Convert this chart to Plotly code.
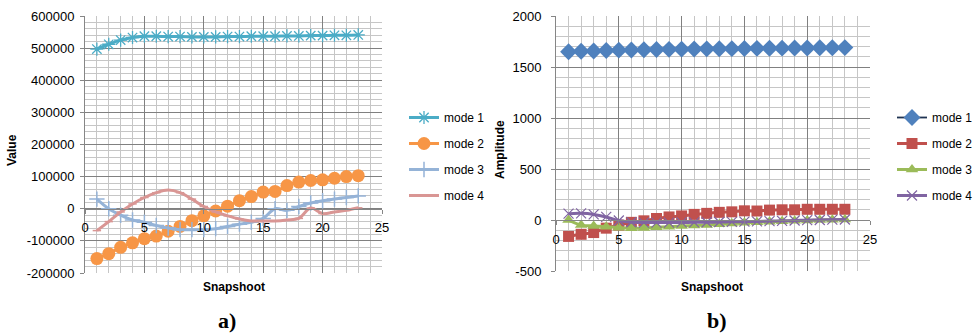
import plotly.graph_objects as go

snap = list(range(1, 24))

# Chart a) values
a_mode1 = [497000, 512000, 525000, 533000, 537000, 537000, 536000, 536000, 535000, 535000, 535000, 536000,
           536000, 537000, 537000, 537000, 538000, 538000, 539000, 539000, 540000, 540000, 541000]
a_mode2 = [-155000, -140000, -120000, -106000, -93000, -85000, -70000, -55000, -37000, -22000, -7000, 8000,
           25000, 38000, 52000, 54000, 72000, 83000, 88000, 90000, 95000, 100000, 103000]
a_mode3 = [30000, 0, -20000, -35000, -42000, -52000, -60000, -65000, -65000, -65000, -62000, -55000,
           -48000, -42000, -30000, 0, -5000, 7000, 18000, 25000, 30000, 35000, 40000]
a_mode4 = [-68000, -40000, -10000, 15000, 35000, 50000, 58000, 50000, 30000, 7000, -10000, -22000,
           -32000, -38000, -38000, -38000, -35000, -30000, 2000, -15000, -10000, -5000, 3000]

# Chart b) values
b_mode1 = [1650, 1654, 1657, 1662, 1665, 1666, 1669, 1671, 1673, 1675, 1676, 1678,
           1679, 1680, 1681, 1683, 1684, 1685, 1686, 1687, 1688, 1689, 1690]
b_mode2 = [-161, -140, -123, -80, -50, -23, -8, 15, 30, 40, 55, 65,
           75, 80, 90, 88, 97, 100, 100, 105, 105, 105, 105]
b_mode3 = [0, -50, -58, -65, -75, -80, -78, -72, -65, -58, -55, -50,
           -42, -35, -28, -22, -18, -12, -8, -5, 0, 2, 5]
b_mode4 = [62, 65, 55, 30, -5, -22, -25, -25, -25, -24, -23, -22,
           -20, -18, -16, -14, -11, -8, -5, -2, 0, 3, 5]

x_ticks = [0, 5, 10, 15, 20, 25]
x_ticktext = ["0", "5", "10", "15", "20", "25"]
a_yticks = [-200000, -100000, 0, 100000, 200000, 300000, 400000, 500000, 600000]
a_yticktext = ["-200000", "-100000", "0", "100000", "200000", "300000", "400000", "500000", "600000"]
b_yticks = [-500, 0, 500, 1000, 1500, 2000]
b_yticktext = ["-500", "0", "500", "1000", "1500", "2000"]

W, H = 980, 333
FONT = "Liberation Sans"
MAJ = "#808080"
MIN = "#c6c6c6"

fig = go.Figure()

def add(x, y, name, color, sym, size, xa, ya, leg, lw=3, mline=None, mcolor=None, mlw=0, lcolor=None):
    fig.add_trace(go.Scatter(
        x=x, y=y, name=name, mode="lines+markers", xaxis=xa, yaxis=ya, legend=leg,
        legendgroup=leg + name,
        line=dict(color=lcolor or color, width=lw, shape="spline", smoothing=1),
        marker=dict(symbol=sym, size=size, color=mcolor or color,
                    line=dict(color=mline or color, width=mlw)),
    ))

add(snap, a_mode1, "mode 1", "#4BACC6", "asterisk-open", 11, "x", "y", "legend", mlw=1.3, mline="#6fc3da")
add(snap, a_mode2, "mode 2", "#F79646", "circle", 13, "x", "y", "legend")
add(snap, a_mode3, "mode 3", "#95B3D7", "cross-thin-open", 11, "x", "y", "legend", mlw=1.5)
add(snap, a_mode4, "mode 4", "#D99694", "line-ew-open", 6, "x", "y", "legend", mlw=1.5)

add(snap, b_mode1, "mode 1", "#4F81BD", "diamond", 13, "x2", "y2", "legend2", lw=1.8, lcolor="#1f3352")
add(snap, b_mode2, "mode 2", "#C0504D", "square", 11, "x2", "y2", "legend2")
add(snap, b_mode3, "mode 3", "#9BBB59", "triangle-up", 11, "x2", "y2", "legend2")
add(snap, b_mode4, "mode 4", "#8064A2", "x-thin-open", 10, "x2", "y2", "legend2", mlw=1.2, mline="#a08cc0")

ya_dom = [1 - 273 / H, 1 - 16 / H]
yb_dom = [1 - 271 / H, 1 - 16 / H]
pos_a = ya_dom[0] + (0 - (-200000)) / 800000 * (ya_dom[1] - ya_dom[0])
pos_b = yb_dom[0] + (0 - (-500)) / 2500 * (yb_dom[1] - yb_dom[0])

tickfont = dict(family=FONT, size=13, color="#000000")

def xax(dom, pos):
    return dict(domain=dom, range=[0, 25], tickvals=x_ticks, ticktext=x_ticktext,
                anchor="free", position=pos, automargin=False,
                showline=True, linecolor="#868686", linewidth=1,
                ticks="outside", ticklen=4, tickcolor="#868686", ticklabelstandoff=3,
                showgrid=True, gridcolor=MAJ, gridwidth=1, zeroline=False,
                minor=dict(dtick=1, showgrid=True, gridcolor=MIN, gridwidth=1),
                tickfont=tickfont, fixedrange=True)

def yax(dom, rng, tv, tt, mdt, xanchor, stand):
    return dict(domain=dom, range=rng, tickvals=tv, ticktext=tt, anchor=xanchor, automargin=False,
                showline=True, linecolor="#868686", linewidth=1,
                ticks="outside", ticklen=4, tickcolor="#868686", ticklabelstandoff=stand,
                showgrid=True, gridcolor=MAJ, gridwidth=1, zeroline=False,
                minor=dict(dtick=mdt, showgrid=True, gridcolor=MIN, gridwidth=1),
                tickfont=tickfont, fixedrange=True)

legfont = dict(family=FONT, size=12, color="#000000")

fig.update_layout(
    width=W, height=H, autosize=False,
    margin=dict(l=0, r=0, t=0, b=0, pad=0, autoexpand=False),
    paper_bgcolor="white", plot_bgcolor="white",
    xaxis=xax([85 / W, 382 / W], pos_a),
    yaxis=yax(ya_dom, [-200000, 600000], a_yticks, a_yticktext, 20000, "x", 3),
    xaxis2=xax([556 / W, 870 / W], pos_b),
    yaxis2=yax(yb_dom, [-500, 2000], b_yticks, b_yticktext, 100, "x2", 7),
    legend=dict(x=404 / W, y=1 - 103 / H, xanchor="left", yanchor="top",
                font=legfont, tracegroupgap=7, itemwidth=30, bgcolor="rgba(0,0,0,0)"),
    legend2=dict(x=892 / W, y=1 - 103 / H, xanchor="left", yanchor="top",
                 font=legfont, tracegroupgap=7, itemwidth=30, bgcolor="rgba(0,0,0,0)"),
    showlegend=True,
)

def ann(text, x, y, size, family=FONT, angle=0, bold=True):
    fig.add_annotation(text=f"<b>{text}</b>" if bold else text, x=x / W, y=1 - y / H,
                       xref="paper", yref="paper", showarrow=False, textangle=angle,
                       font=dict(family=family, size=size, color="#000000"),
                       xanchor="center", yanchor="middle")

ann("Value", 12, 150, 12, angle=-90)
ann("Snapshoot", 234, 287, 12)
ann("Amplitude", 500, 150, 12, angle=-90)
ann("Snapshoot", 712, 287, 12)
ann("a)", 227, 320, 22, family="Liberation Serif")
ann("b)", 717, 320, 22, family="Liberation Serif")

fig.write_html("out.html", config={"displayModeBar": False},
               post_script="document.body.style.margin='0';document.body.style.overflow='hidden';")
